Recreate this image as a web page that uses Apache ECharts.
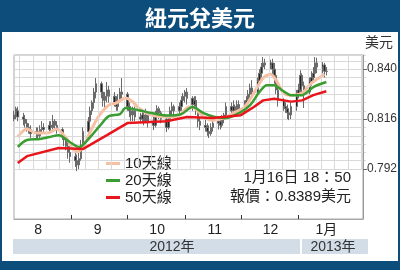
<!DOCTYPE html>
<html><head><meta charset="utf-8">
<script src="https://cdn.jsdelivr.net/npm/echarts@6/dist/echarts.min.js"></script>
<style>html,body{margin:0;padding:0;background:#0c4d7c;}#c{width:400px;height:270px;}</style>
</head><body><div id="c"></div>
<script>
// ---- data ----
const dates = [
'2012-08-01','2012-08-02','2012-08-03','2012-08-06','2012-08-07','2012-08-08','2012-08-09','2012-08-10','2012-08-13','2012-08-14','2012-08-15','2012-08-16','2012-08-17','2012-08-20','2012-08-21','2012-08-22','2012-08-23','2012-08-24','2012-08-27','2012-08-28','2012-08-29','2012-08-30','2012-08-31',
'2012-09-03','2012-09-04','2012-09-05','2012-09-06','2012-09-07','2012-09-10','2012-09-11','2012-09-12','2012-09-13','2012-09-14','2012-09-17','2012-09-18','2012-09-19','2012-09-20','2012-09-21','2012-09-24','2012-09-25','2012-09-26','2012-09-27','2012-09-28',
'2012-10-01','2012-10-02','2012-10-03','2012-10-04','2012-10-05','2012-10-08','2012-10-09','2012-10-10','2012-10-11','2012-10-12','2012-10-15','2012-10-16','2012-10-17','2012-10-18','2012-10-19','2012-10-22','2012-10-23','2012-10-24','2012-10-25','2012-10-26','2012-10-29','2012-10-30','2012-10-31',
'2012-11-01','2012-11-02','2012-11-05','2012-11-06','2012-11-07','2012-11-08','2012-11-09','2012-11-12','2012-11-13','2012-11-14','2012-11-15','2012-11-16','2012-11-19','2012-11-20','2012-11-21','2012-11-22','2012-11-23','2012-11-26','2012-11-27','2012-11-28','2012-11-29','2012-11-30',
'2012-12-03','2012-12-04','2012-12-05','2012-12-06','2012-12-07','2012-12-10','2012-12-11','2012-12-12','2012-12-13','2012-12-14','2012-12-17','2012-12-18','2012-12-19','2012-12-20','2012-12-21','2012-12-24','2012-12-25','2012-12-26','2012-12-27','2012-12-28','2012-12-31',
'2013-01-01','2013-01-02','2013-01-03','2013-01-04','2013-01-07','2013-01-08','2013-01-09','2013-01-10','2013-01-11','2013-01-14','2013-01-15','2013-01-16'];
const opens = [
.816,.818,.820,.817,.816,.814,.812,.811,.809,.810,.808,.811,.812,.811,.813,.812,.815,.813,.811,.808,.806,.803,.800,
.798,.796,.794,.797,.803,.810,.815,.820,.824,.829,.833,.829,.825,.827,.830,.827,.824,.822,.825,.829,
.828,.822,.820,.818,.820,.817,.816,.818,.815,.818,.815,.813,.818,.821,.819,.816,.812,.816,.820,.822,.820,.822,.825,
.827,.829,.826,.823,.825,.820,.815,.813,.812,.810,.809,.812,.814,.815,.813,.816,.818,.822,.820,.822,.820,.823,
.821,.823,.825,.828,.831,.829,.834,.838,.841,.843,.842,.843,.840,.837,.830,.825,.822,.821,.819,.818,.822,
.828,.830,.837,.832,.829,.834,.836,.838,.843,.841,.842,.839];
const closes = [
.818,.821,.817,.816,.814,.812,.811,.809,.810,.808,.811,.812,.811,.813,.812,.815,.813,.811,.808,.806,.803,.800,.798,
.796,.794,.797,.803,.810,.815,.820,.824,.829,.833,.829,.825,.827,.830,.827,.824,.822,.825,.829,.828,
.822,.820,.818,.820,.817,.816,.818,.815,.818,.815,.813,.818,.821,.819,.816,.812,.816,.820,.822,.820,.822,.825,.827,
.829,.826,.823,.825,.820,.815,.813,.812,.810,.809,.812,.814,.815,.813,.816,.818,.822,.820,.822,.820,.823,.821,
.823,.825,.828,.831,.829,.834,.838,.841,.843,.842,.843,.840,.837,.830,.825,.822,.821,.819,.818,.822,.828,
.830,.837,.832,.829,.834,.836,.838,.843,.841,.842,.839,.8389];
const lows = [
.815,.816,.815,.813,.812,.810,.809,.807,.806,.806,.807,.809,.809,.810,.810,.811,.811,.809,.806,.803,.801,.797,.795,
.793,.791,.792,.796,.802,.808,.813,.818,.821,.826,.826,.822,.821,.824,.824,.822,.820,.820,.824,.825,
.820,.817,.815,.815,.815,.814,.814,.813,.814,.812,.8107,.812,.816,.816,.814,.8098,.811,.815,.818,.817,.818,.820,.822,
.824,.823,.820,.821,.818,.812,.8107,.810,.808,.8069,.808,.810,.811,.811,.812,.814,.816,.818,.818,.817,.819,.819,
.819,.821,.823,.826,.827,.828,.833,.836,.839,.840,.840,.837,.833,.828,.822,.820,.819,.816,.8155,.816,.820,
.826,.829,.829,.8213,.828,.832,.834,.836,.838,.838,.836,.837];
const highs = [
.820,.822,.822,.819,.818,.816,.814,.813,.812,.812,.813,.815,.814,.815,.815,.818,.816,.815,.812,.810,.808,.805,.803,
.800,.799,.800,.806,.812,.817,.822,.825,.831,.8357,.834,.831,.829,.8338,.832,.829,.827,.828,.831,.8357,
.829,.824,.822,.822,.822,.819,.820,.819,.821,.819,.817,.820,.8227,.822,.820,.817,.818,.822,.8242,.823,.824,.827,.8285,
.830,.8309,.827,.827,.827,.821,.817,.816,.814,.813,.814,.817,.8175,.817,.818,.819,.824,.824,.825,.823,.825,.825,
.825,.827,.830,.833,.8347,.836,.840,.843,.8458,.845,.8445,.845,.843,.838,.832,.826,.824,.823,.821,.824,.830,
.833,.8395,.838,.834,.836,.839,.841,.8458,.8455,.8434,.843,.841];

const ma10Dates = ['2012-08-03','2012-08-08','2012-08-13','2012-08-19','2012-08-24','2012-08-29','2012-09-04','2012-09-07','2012-09-12','2012-09-16','2012-09-21','2012-09-25','2012-09-30','2012-10-04','2012-10-07','2012-10-14','2012-10-22','2012-10-29','2012-11-03','2012-11-05','2012-11-09','2012-11-12','2012-11-16','2012-11-22','2012-11-27','2012-12-03','2012-12-08','2012-12-13','2012-12-17','2012-12-20','2012-12-24','2012-12-28','2013-01-03','2013-01-08','2013-01-15'];
const ma10Values = [.8075,.8112,.8093,.8093,.8112,.8069,.8002,.8026,.8117,.8179,.8227,.8237,.8261,.8242,.8213,.8179,.817,.8179,.8218,.8218,.8189,.8165,.8155,.8165,.8189,.8218,.8285,.8357,.8376,.8347,.8285,.8275,.8285,.8333,.8376];
const ma20Dates = ['2012-08-03','2012-08-08','2012-08-15','2012-08-20','2012-08-25','2012-08-31','2012-09-05','2012-09-11','2012-09-16','2012-09-21','2012-09-27','2012-09-30','2012-10-07','2012-10-14','2012-10-22','2012-10-30','2012-11-05','2012-11-11','2012-11-17','2012-11-23','2012-12-01','2012-12-06','2012-12-11','2012-12-15','2012-12-19','2012-12-23','2012-12-28','2013-01-03','2013-01-09','2013-01-16'];
const ma20Values = [.8026,.806,.8064,.8074,.8083,.805,.8026,.8074,.8126,.8174,.8184,.8213,.8203,.8189,.8177,.8184,.8218,.8189,.817,.8165,.8194,.8227,.829,.8323,.8323,.830,.8275,.8275,.8314,.8338];
const ma50Dates = ['2012-08-03','2012-08-08','2012-08-25','2012-09-07','2012-09-20','2012-10-01','2012-10-22','2012-11-02','2012-11-16','2012-12-01','2012-12-08','2012-12-13','2012-12-19','2012-12-28','2013-01-03','2013-01-09','2013-01-16'];
const ma50Values = [.7949,.7982,.8021,.8016,.8083,.8141,.815,.817,.8165,.8179,.8218,.825,.8258,.8244,.825,.8275,.8294];

const seriesNames = ['10天線','20天線','50天線'];
const monthTickDates = ['2012-09-01','2012-10-01','2012-11-01','2012-12-01','2013-01-01'];
const monthLabelDates = ['2012-08-14','2012-09-15','2012-10-17','2012-11-17','2012-12-17','2013-01-16'];
const yTickValues = [0.792, 0.816, 0.840];
const yearLabels = ['2012年','2013年'];
const titleText = '紐元兌美元';
const unitText = '美元';
const stampText = '1月16日 18：50';
const quoteText = '報價：0.8389美元';

// ---- chart ----
function ts(s){const p=s.split('-').map(Number);return new Date(p[0],p[1]-1,p[2]).getTime();}
const xMin = ts('2012-08-01');
const xMax = new Date(2013,1,4,17).getTime();
const yMin = 0.768, yMax = 0.8468, yGridMin = 0.792;
const G = {left:14, right:34, top:55, bottom:51};
const plotH = 270 - G.top - G.bottom;
const grid1H = plotH * (yMax - yGridMin) / (yMax - yMin);

const weekLines = [];
for (let d = new Date(2012,7,4); d.getTime() < xMax; d.setDate(d.getDate()+7)) {
  const t = d.getTime();
  weekLines.push([{coord:[t, yGridMin]},{coord:[t, yMax]}]);
}
const candleData = dates.map((d,i)=>[ts(d), opens[i], closes[i], lows[i], highs[i]]);
const pairs = (ds, vs) => ds.map((d,i)=>[ts(d), vs[i]]);

const LAT = "'Liberation Sans','Noto Sans CJK TC',sans-serif";
const chart = echarts.init(document.getElementById('c'), null, {renderer:'canvas'});
chart.setOption({
  animation:false,
  backgroundColor:'#0c4d7c',
  title:{text:titleText,left:'center',top:2,textStyle:{color:'#fff',fontSize:22,fontWeight:'bold',fontFamily:"'Noto Sans CJK TC',sans-serif"}},
  grid:[
    {left:G.left,right:G.right,top:G.top,bottom:G.bottom,show:true,borderColor:'#a8a8a8',borderWidth:1,backgroundColor:'transparent'},
    {left:G.left,right:G.right,top:G.top,height:grid1H}
  ],
  xAxis:[
    {type:'value',gridIndex:0,min:xMin,max:xMax,
     axisLine:{show:true,lineStyle:{color:'#a8a8a8'}},
     axisTick:{show:true,inside:true,length:4,customValues:monthTickDates.map(ts),lineStyle:{color:'#333'}},
     axisLabel:{customValues:monthLabelDates.map(ts),margin:4,color:'#222',fontSize:14,fontFamily:LAT,
       formatter:v=>{const m=new Date(v).getMonth()+1;return m===1?'1月':String(m);}},
     splitLine:{show:false}},
    {type:'value',gridIndex:1,min:xMin,max:xMax,show:false}
  ],
  yAxis:[
    {type:'value',gridIndex:0,min:yMin,max:yMax,position:'right',
     axisLine:{show:true,lineStyle:{color:'#999'}},
     axisTick:{show:true,length:4,customValues:yTickValues,lineStyle:{color:'#666'}},
     axisLabel:{customValues:yTickValues,formatter:v=>v.toFixed(3),margin:4,color:'#333',fontSize:12,fontFamily:"'Liberation Sans Narrow','Liberation Sans',sans-serif"},
     splitLine:{show:false}},
    {type:'value',gridIndex:1,min:yGridMin,max:yMax,interval:0.004,position:'right',
     axisLine:{show:false},axisTick:{show:false},axisLabel:{show:false},
     splitLine:{show:true,lineStyle:{color:'#d9d9d9',width:1}}}
  ],
  legend:{data:seriesNames,orient:'vertical',left:101,top:151,itemGap:2,itemWidth:14,itemHeight:3,icon:'rect',
    textStyle:{fontSize:15,color:'#222',fontFamily:LAT}},
  series:[
    {type:'line',xAxisIndex:1,yAxisIndex:1,data:[],silent:true,z:1,
     markLine:{silent:true,symbol:['none','none'],label:{show:false},animation:false,
       lineStyle:{color:'#d9d9d9',type:'solid',width:1},data:weekLines}},
    {type:'candlestick',xAxisIndex:0,yAxisIndex:0,data:candleData,encode:{x:0,y:[1,2,3,4]},barWidth:2,z:3,
     itemStyle:{color:'#222',color0:'#222',borderColor:'#6a6a6a',borderColor0:'#6a6a6a',borderWidth:1}},
    {name:seriesNames[0],type:'line',data:pairs(ma10Dates,ma10Values),showSymbol:false,smooth:0.3,z:4,
     lineStyle:{color:'#f8c0a3',width:3},itemStyle:{color:'#f8c0a3'}},
    {name:seriesNames[1],type:'line',data:pairs(ma20Dates,ma20Values),showSymbol:false,smooth:0.3,z:5,
     lineStyle:{color:'#3a9d32',width:2.5},itemStyle:{color:'#3a9d32'}},
    {name:seriesNames[2],type:'line',data:pairs(ma50Dates,ma50Values),showSymbol:false,smooth:false,z:6,
     lineStyle:{color:'#e8161c',width:2.5},itemStyle:{color:'#e8161c'}}
  ],
  graphic:[
    {type:'rect',z:-10,shape:{x:2,y:32,width:396,height:229},style:{fill:'#ffffff'}},
    {type:'rect',z:-5,shape:{x:13,y:239,width:287,height:15},style:{fill:'#d3dde8'}},
    {type:'rect',z:-5,shape:{x:302,y:239,width:66,height:15},style:{fill:'#d3dde8'}},
    {type:'text',x:172,y:247,style:{text:yearLabels[0],align:'center',verticalAlign:'middle',fontSize:14,fontFamily:LAT,fill:'#333'}},
    {type:'text',x:333,y:247,style:{text:yearLabels[1],align:'center',verticalAlign:'middle',fontSize:14,fontFamily:LAT,fill:'#333'}},
    {type:'text',x:365,y:43,style:{text:unitText,align:'left',verticalAlign:'middle',fontSize:14,fontFamily:LAT,fill:'#333'}},
    {type:'text',x:351,y:178,style:{text:stampText,align:'right',verticalAlign:'middle',fontSize:15,fontFamily:LAT,fill:'#222'}},
    {type:'text',x:351,y:197,style:{text:quoteText,align:'right',verticalAlign:'middle',fontSize:15,fontFamily:LAT,fill:'#222'}}
  ]
});
</script></body></html>
